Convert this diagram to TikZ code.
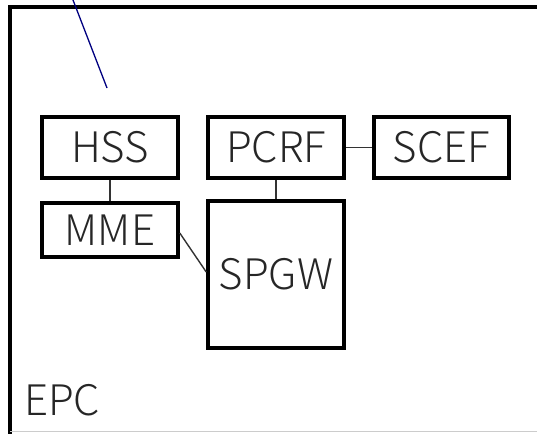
\documentclass[tikz,border=0pt]{standalone}
\usepackage{fontspec}
\setmainfont{Noto Sans CJK JP Light}
\begin{document}
\begin{tikzpicture}[x=1pt,y=-1pt,
  box/.style={draw=black,line width=3.5pt,inner sep=0pt,font=\fontsize{42}{42}\selectfont,text=black!85},
  link/.style={draw=black!80,line width=1.4pt}]
\useasboundingbox (0,0) rectangle (537,433);
\begin{scope}
\clip (0,0) rectangle (537,433);
\draw[line width=3.5pt] (545,7) -- (10,7) -- (10,440);
\end{scope}
\draw[black!20,line width=1pt] (10,431.5) -- (537,431.5);
\node[box,minimum width=136pt,minimum height=61pt] (hss) at (110,147.5) {HSS};
\node[box,minimum width=136pt,minimum height=54pt] (mme) at (110,230) {MME};
\node[box,minimum width=136pt,minimum height=61pt] (pcrf) at (276,147.5) {PCRF};
\node[box,minimum width=135pt,minimum height=61pt] (scef) at (441.5,147.5) {SCEF};
\node[box,minimum width=136pt,minimum height=147pt,text depth=0pt] (spgw) at (276,274.5) {};
\node[font=\fontsize{42}{42}\selectfont,text=black!85,anchor=center] (spgwlbl) at (spgw.center) {SPGW};
\node[font=\fontsize{42}{42}\selectfont,text=black!85,anchor=base west,inner sep=0pt] (epc) at (24,415) {EPC};
\coordinate (bl1) at (73,0);
\coordinate (bl2) at (107,88);
\draw[color={rgb,255:red,0;green,0;blue,128},line width=1.3pt] (bl1) -- (bl2);
\draw[link] (hss.south) -- (mme.north);
\draw[link] (pcrf.south) -- (spgw.north);
\draw[link] (pcrf.east) -- (scef.west);
\draw[link] (mme.east |- 0,233) -- (spgw.west |- 0,272);
\end{tikzpicture}
\end{document}
